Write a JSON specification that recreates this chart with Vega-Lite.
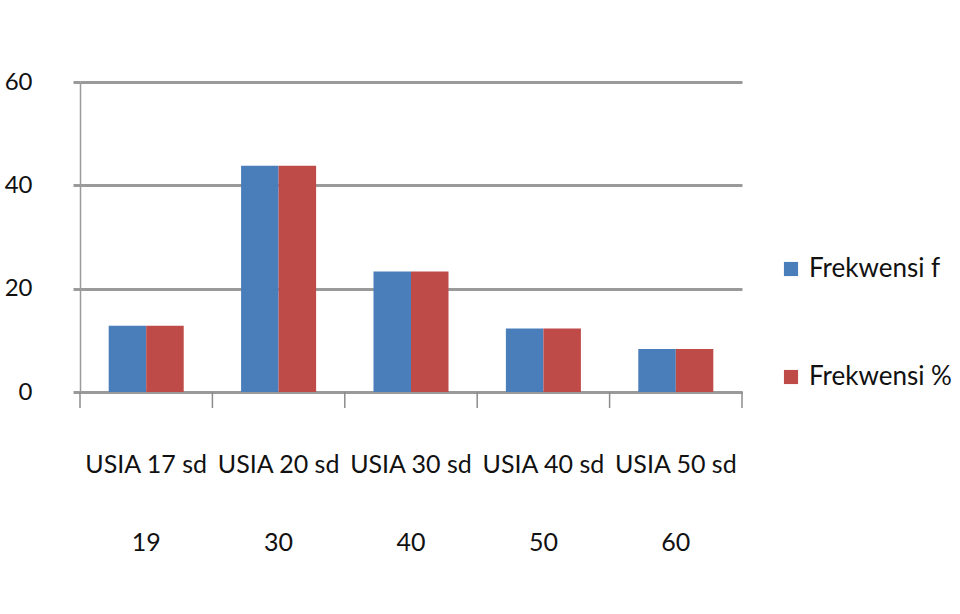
{
  "$schema": "https://vega.github.io/schema/vega-lite/v6.json",
  "width": 662,
  "height": 310,
  "autosize": {"type": "none"},
  "padding": {"left": 80, "top": 82, "right": 218, "bottom": 222},
  "background": "white",
  "data": {
    "values": [
      {"usia": "USIA 17 sd 19", "seri": "Frekwensi f", "nilai": 12.8},
      {"usia": "USIA 17 sd 19", "seri": "Frekwensi %", "nilai": 12.8},
      {"usia": "USIA 20 sd 30", "seri": "Frekwensi f", "nilai": 43.8},
      {"usia": "USIA 20 sd 30", "seri": "Frekwensi %", "nilai": 43.8},
      {"usia": "USIA 30 sd 40", "seri": "Frekwensi f", "nilai": 23.3},
      {"usia": "USIA 30 sd 40", "seri": "Frekwensi %", "nilai": 23.3},
      {"usia": "USIA 40 sd 50", "seri": "Frekwensi f", "nilai": 12.3},
      {"usia": "USIA 40 sd 50", "seri": "Frekwensi %", "nilai": 12.3},
      {"usia": "USIA 50 sd 60", "seri": "Frekwensi f", "nilai": 8.3},
      {"usia": "USIA 50 sd 60", "seri": "Frekwensi %", "nilai": 8.3}
    ]
  },
  "layer": [
    {
      "mark": {"type": "bar"},
      "encoding": {
        "x": {
          "field": "usia",
          "type": "nominal",
          "sort": null,
          "title": null,
          "scale": {"paddingInner": 0, "paddingOuter": 0},
          "axis": {
            "labelAngle": 0,
            "labelExpr": "[slice(datum.value, 0, 10), slice(datum.value, 11)]",
            "labelFont": "Lato",
            "labelFontSize": 25,
            "labelColor": "#111111",
            "labelLineHeight": 78,
            "labelPadding": 60,
            "labelBaseline": "top",
            "ticks": false,
            "domainColor": "#9a9a9a",
            "domainWidth": 3,
            "grid": false
          }
        },
        "xOffset": {
          "field": "seri",
          "type": "nominal",
          "sort": ["Frekwensi f", "Frekwensi %"],
          "scale": {"paddingInner": 0, "paddingOuter": 0.765}
        },
        "y": {
          "field": "nilai",
          "type": "quantitative",
          "title": null,
          "scale": {"domain": [0, 60], "nice": false},
          "axis": {
            "values": [0, 20, 40, 60],
            "labelFont": "Lato",
            "labelFontSize": 24,
            "labelColor": "#111111",
            "labelPadding": 41,
            "tickSize": 7,
            "tickColor": "#9a9a9a",
            "tickWidth": 3,
            "gridColor": "#9a9a9a",
            "gridWidth": 3,
            "domainColor": "#9a9a9a",
            "domainWidth": 1.5
          }
        },
        "color": {
          "field": "seri",
          "type": "nominal",
          "sort": ["Frekwensi f", "Frekwensi %"],
          "scale": {"domain": ["Frekwensi f", "Frekwensi %"], "range": ["#4a7ebb", "#be4b48"]},
          "legend": {
            "title": null,
            "orient": "none",
            "legendX": 698,
            "legendY": 174,
            "symbolType": "square",
            "symbolSize": 200,
            "symbolStrokeWidth": 0,
            "labelFont": "Lato",
            "labelFontSize": 26,
            "labelColor": "#111111",
            "labelOffset": 5,
            "rowPadding": 82,
            "labelLimit": 300
          }
        }
      }
    },
    {
      "transform": [{"filter": "datum.seri === 'Frekwensi f'"}],
      "mark": {"type": "rule", "color": "#8c8c8c", "strokeWidth": 1.5},
      "encoding": {
        "x": {"field": "usia", "type": "nominal", "sort": null, "bandPosition": 0},
        "y": {"datum": 0, "type": "quantitative"},
        "y2": {"datum": -3.1}
      }
    },
    {
      "transform": [{"filter": "datum.seri === 'Frekwensi f' && datum.usia === 'USIA 50 sd 60'"}],
      "mark": {"type": "rule", "color": "#8c8c8c", "strokeWidth": 1.5},
      "encoding": {
        "x": {"field": "usia", "type": "nominal", "sort": null, "bandPosition": 1},
        "y": {"datum": 0, "type": "quantitative"},
        "y2": {"datum": -3.1}
      }
    }
  ],
  "config": {
    "view": {"stroke": null}
  }
}
